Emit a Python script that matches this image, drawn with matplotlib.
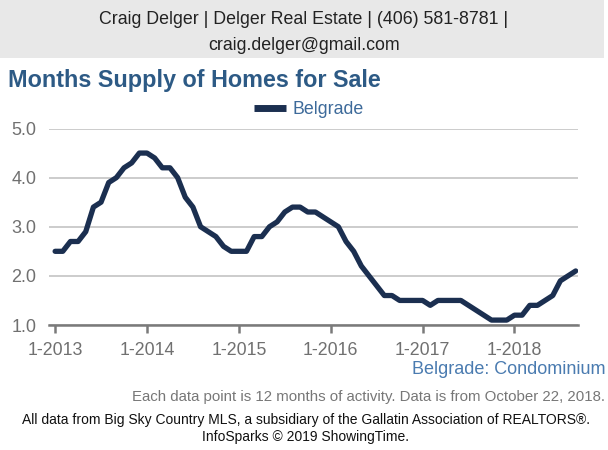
import matplotlib
matplotlib.use("Agg")
import matplotlib.pyplot as plt
import numpy as np

plt.rcParams['font.family'] = ['Liberation Sans', 'DejaVu Sans']

# Monthly values, Jan 2013 .. Sep 2018
supply = [
    2.5, 2.5, 2.7, 2.7, 2.9, 3.4, 3.5, 3.9, 4.0, 4.2, 4.3, 4.5,   # 2013
    4.5, 4.4, 4.2, 4.2, 4.0, 3.6, 3.4, 3.0, 2.9, 2.8, 2.6, 2.5,   # 2014
    2.5, 2.5, 2.8, 2.8, 3.0, 3.1, 3.3, 3.4, 3.4, 3.3, 3.3, 3.2,   # 2015
    3.1, 3.0, 2.7, 2.5, 2.2, 2.0, 1.8, 1.6, 1.6, 1.5, 1.5, 1.5,   # 2016
    1.5, 1.4, 1.5, 1.5, 1.5, 1.5, 1.4, 1.3, 1.2, 1.1, 1.1, 1.1,   # 2017
    1.2, 1.2, 1.4, 1.4, 1.5, 1.6, 1.9, 2.0, 2.1,                  # 2018
]
tick_labels = ["1-2013", "1-2014", "1-2015", "1-2016", "1-2017", "1-2018"]
y_ticks = [1.0, 2.0, 3.0, 4.0, 5.0]
series_name = "Belgrade"

W, H = 608, 450
fig = plt.figure(figsize=(W / 100, H / 100), dpi=100)
fig.patch.set_facecolor('white')

def fx(px):
    return px / W

def fy(py):
    return 1 - py / H

# Header box
hdr = plt.Rectangle((0, fy(58)), fx(604), 58 / H, transform=fig.transFigure,
                    facecolor='#e8e8e8', edgecolor='none', zorder=0)
fig.patches.append(hdr)
fig.text(fx(304), fy(20), "Craig Delger | Delger Real Estate | (406) 581-8781 |",
         ha='center', va='center', fontsize=12.8, color='#222222')
fig.text(fx(304), fy(45), "craig.delger@gmail.com",
         ha='center', va='center', fontsize=12.8, color='#222222')

# Title
fig.text(fx(8), fy(81), "Months Supply of Homes for Sale", ha='left', va='center',
         fontsize=16.8, fontweight='bold', color='#2d5a85')

# Axes
left, right, top, bottom = 49, 578, 128.5, 325
ax = fig.add_axes([fx(left), fy(bottom), (right - left) / W, (bottom - top) / H])
ax.set_facecolor('white')
x = np.arange(len(supply))
line, = ax.plot(x, supply, color='#1b2f50', linewidth=3.8,
                solid_joinstyle='round', solid_capstyle='round', zorder=3,
                label=series_name)
ax.set_ylim(1.0, 5.0)
ax.set_xlim(-0.8, 68.3)
ax.set_yticks(y_ticks)
ax.set_yticklabels([f"{v:.1f}" for v in y_ticks])
ax.set_xticks(np.arange(len(tick_labels)) * 12)
ax.set_xticklabels(tick_labels)
ax.grid(axis='y', color='#c8c8c8', linewidth=1.3)
ax.set_axisbelow(True)
for s in ['top', 'right', 'left']:
    ax.spines[s].set_visible(False)
ax.spines['bottom'].set_color('#7a7a7a')
ax.spines['bottom'].set_linewidth(1.8)
ax.spines['bottom'].set_zorder(4)
ax.tick_params(axis='y', length=0, pad=9, labelsize=13, labelcolor='#707070')
ax.tick_params(axis='x', length=6, width=1.8, color='#7a7a7a', pad=6,
               labelsize=12.8, labelcolor='#707070')

# Legend
leg = fig.legend(handles=[line], loc='center', bbox_to_anchor=(fx(309), fy(110)),
                 frameon=False, fontsize=12.8, handlelength=1.8, handletextpad=0.4,
                 borderpad=0)
for t in leg.get_texts():
    t.set_color('#3d6a9a')
leg.get_lines()[0].set_linewidth(5)
leg.get_lines()[0].set_solid_capstyle('butt')

# Footer texts
fig.text(fx(606), fy(370), "Belgrade: Condominium", ha='right', va='center',
         fontsize=13, color='#4a7bb0')
fig.text(fx(605), fy(397),
         "Each data point is 12 months of activity. Data is from October 22, 2018.",
         ha='right', va='center', fontsize=10.8, color='#777777')
fig.text(fx(306), fy(420),
         "All data from Big Sky Country MLS, a subsidiary of the Gallatin Association of REALTORS\u00ae.",
         ha='center', va='center', fontsize=10.0, color='#111111')
fig.text(fx(306), fy(437), "InfoSparks \u00a9 2019 ShowingTime.",
         ha='center', va='center', fontsize=10.0, color='#111111')

fig.savefig("out.png", dpi=100, facecolor='white')
